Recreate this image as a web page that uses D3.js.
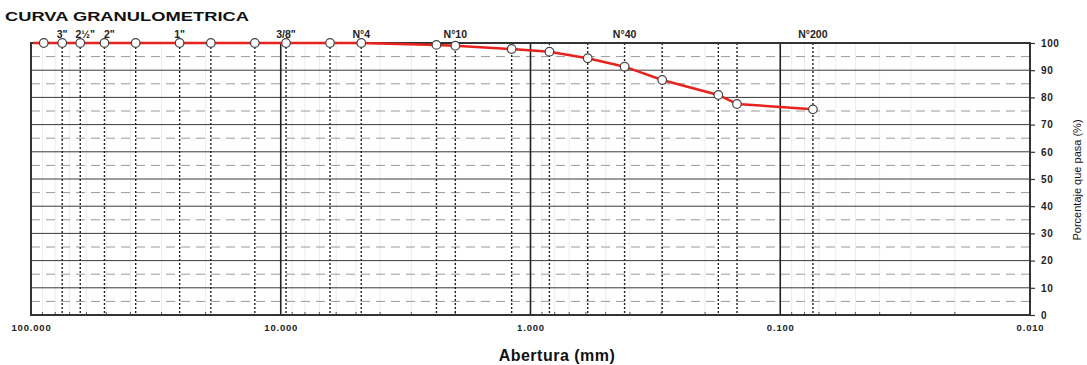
<!DOCTYPE html>
<html>
<head>
<meta charset="utf-8">
<script src="https://cdn.jsdelivr.net/npm/d3@7"></script>
<style>
  body { margin: 0; background: #fff; }
  svg { display: block; font-family: "Liberation Sans", Arial, sans-serif; }
</style>
</head>
<body>
<svg width="1087" height="365"></svg>
<script>
// sieve openings (mm) and % passing
var sieveNames = ['3½"', '3"', '2½"', '2"', '1½"', '1"', '3/4"', '1/2"', '3/8"', '1/4"', "N°4",
                  "N°8", "N°10", "N°16", "N°20", "N°30", "N°40", "N°50", "N°80", "N°100", "N°200"];
var sieveSizes = [88.9, 75, 63.5, 50.8, 38.1, 25.4, 19.05, 12.7, 9.525, 6.35, 4.76,
                  2.38, 2.00, 1.19, 0.84, 0.59, 0.42, 0.297, 0.177, 0.149, 0.074];
var passing = [100, 100, 100, 100, 100, 100, 100, 100, 100, 100, 100,
               99.3, 99.0, 97.8, 96.8, 94.4, 91.3, 86.4, 80.9, 77.6, 75.6];
var topLabels = ['3"', '2½"', '2"', '1"', '3/8"', "N°4", "N°10", "N°40", "N°200"];
var noGuide = ['3½"'];
var decades = [100, 10, 1, 0.1, 0.01];
var yTicks = [0, 10, 20, 30, 40, 50, 60, 70, 80, 90, 100];

var svg = d3.select("svg"),
    pL = 31, pR = 1030, pT = 43, pB = 315;

var x = d3.scaleLog().domain([100, 0.01]).range([pL, pR]);
var y = d3.scaleLinear().domain([0, 100]).range([pB, pT]);

var data = sieveSizes.map(function(d, i) {
  return {name: sieveNames[i], size: d, pct: passing[i]};
});

// minor log positions 2..9 in each decade
var minor = [];
[10, 1, 0.1, 0.01].forEach(function(dec) {
  for (var k = 2; k <= 9; k++) minor.push(dec * k);
});

var grid = svg.append("g");

grid.selectAll(".minor")
  .data(minor)
  .enter().append("line")
    .attr("x1", function(d) { return x(d); })
    .attr("x2", function(d) { return x(d); })
    .attr("y1", pT).attr("y2", pB)
    .attr("stroke", "#ececec")
    .attr("stroke-width", 1);

// small ticks along the bottom
grid.selectAll(".mtick")
  .data(minor)
  .enter().append("line")
    .attr("x1", function(d) { return x(d); })
    .attr("x2", function(d) { return x(d); })
    .attr("y1", pB - 3).attr("y2", pB)
    .attr("stroke", "#555")
    .attr("stroke-width", 1);

// dashed lines on the 5s
grid.selectAll(".dash")
  .data(d3.range(5, 100, 10))
  .enter().append("line")
    .attr("x1", pL).attr("x2", pR)
    .attr("y1", function(d) { return y(d); })
    .attr("y2", function(d) { return y(d); })
    .attr("stroke", "#9a9a9a")
    .attr("stroke-width", 1)
    .attr("stroke-dasharray", "9,6");

// solid lines on the 10s
grid.selectAll(".hline")
  .data(yTicks.slice(1, -1))
  .enter().append("line")
    .attr("x1", pL).attr("x2", pR)
    .attr("y1", function(d) { return y(d); })
    .attr("y2", function(d) { return y(d); })
    .attr("stroke", "#3a3a3a")
    .attr("stroke-width", 1);

// decade lines
grid.selectAll(".dec")
  .data(decades.slice(1, -1))
  .enter().append("line")
    .attr("x1", function(d) { return x(d); })
    .attr("x2", function(d) { return x(d); })
    .attr("y1", pT).attr("y2", pB)
    .attr("stroke", "#222")
    .attr("stroke-width", 1.6);

// sieve lines
grid.selectAll(".sieve")
  .data(data.filter(function(d) { return noGuide.indexOf(d.name) < 0; }))
  .enter().append("line")
    .attr("x1", function(d) { return x(d.size); })
    .attr("x2", function(d) { return x(d.size); })
    .attr("y1", pT).attr("y2", pB)
    .attr("stroke", "#222")
    .attr("stroke-width", 1.4)
    .attr("stroke-dasharray", "2,2");

// frame
svg.append("rect")
    .attr("x", pL).attr("y", pT)
    .attr("width", pR - pL).attr("height", pB - pT)
    .attr("fill", "none")
    .attr("stroke", "#333")
    .attr("stroke-width", 2);

// curve
var line = d3.line()
    .x(function(d) { return x(d.size); })
    .y(function(d) { return y(d.pct); });

svg.append("line")
    .attr("x1", pL + 2).attr("x2", x(sieveSizes[0]))
    .attr("y1", y(100)).attr("y2", y(100))
    .attr("stroke", "#e8231d").attr("stroke-width", 2.5);

svg.append("path")
    .datum(data)
    .attr("d", line)
    .attr("fill", "none")
    .attr("stroke", "#e8231d")
    .attr("stroke-width", 2.5);

svg.selectAll(".pt")
  .data(data)
  .enter().append("circle")
    .attr("cx", function(d) { return x(d.size); })
    .attr("cy", function(d) { return y(d.pct); })
    .attr("r", 4.3)
    .attr("fill", "#fff")
    .attr("stroke", "#444")
    .attr("stroke-width", 1.2);

// sieve names along the top
svg.append("g")
    .selectAll("text")
    .data(data.filter(function(d) { return topLabels.indexOf(d.name) >= 0; }))
    .enter().append("text")
      .attr("x", function(d) { return x(d.size) + (d.name == '2½"' || d.name == '2"' ? 5 : 0); })
      .attr("y", 38)
      .attr("text-anchor", "middle")
      .attr("font-size", 10.5)
      .attr("font-weight", "bold")
      .attr("fill", "#222")
      .text(function(d) { return d.name; });

// right axis
var yAxis = svg.append("g")
    .attr("transform", "translate(" + pR + ",0)")
    .call(d3.axisRight(y).tickValues(yTicks).tickSize(5).tickPadding(6));
yAxis.select(".domain").remove();
yAxis.selectAll("line").attr("stroke", "#333").attr("stroke-width", 1.2);
yAxis.selectAll("text")
    .attr("font-family", "Liberation Sans, Arial, sans-serif")
    .attr("font-size", 10)
    .attr("font-weight", "bold")
    .attr("letter-spacing", 0.6)
    .attr("fill", "#222");

// bottom labels
var xAxis = svg.append("g")
    .attr("transform", "translate(0," + pB + ")")
    .call(d3.axisBottom(x).tickValues(decades).tickSize(0).tickPadding(9)
      .tickFormat(d3.format(".3f")));
xAxis.select(".domain").remove();
xAxis.selectAll("text")
    .attr("font-family", "Liberation Sans, Arial, sans-serif")
    .attr("font-size", 9.5)
    .attr("font-weight", "bold")
    .attr("letter-spacing", 0.8)
    .attr("fill", "#222");

svg.append("text")
    .attr("x", 5).attr("y", 21)
    .attr("font-size", 13)
    .attr("font-weight", "bold")
    .attr("fill", "#111")
    .attr("textLength", 244)
    .attr("lengthAdjust", "spacingAndGlyphs")
    .text("CURVA GRANULOMETRICA");

svg.append("text")
    .attr("x", 557).attr("y", 361)
    .attr("text-anchor", "middle")
    .attr("font-size", 16)
    .attr("font-weight", "bold")
    .attr("fill", "#111")
    .attr("letter-spacing", 0.5)
    .text("Abertura (mm)");

svg.append("text")
    .attr("transform", "translate(1081,180) rotate(-90)")
    .attr("text-anchor", "middle")
    .attr("font-size", 11)
    .attr("fill", "#111")
    .text("Porcentaje que pasa (%)");
</script>
</body>
</html>
